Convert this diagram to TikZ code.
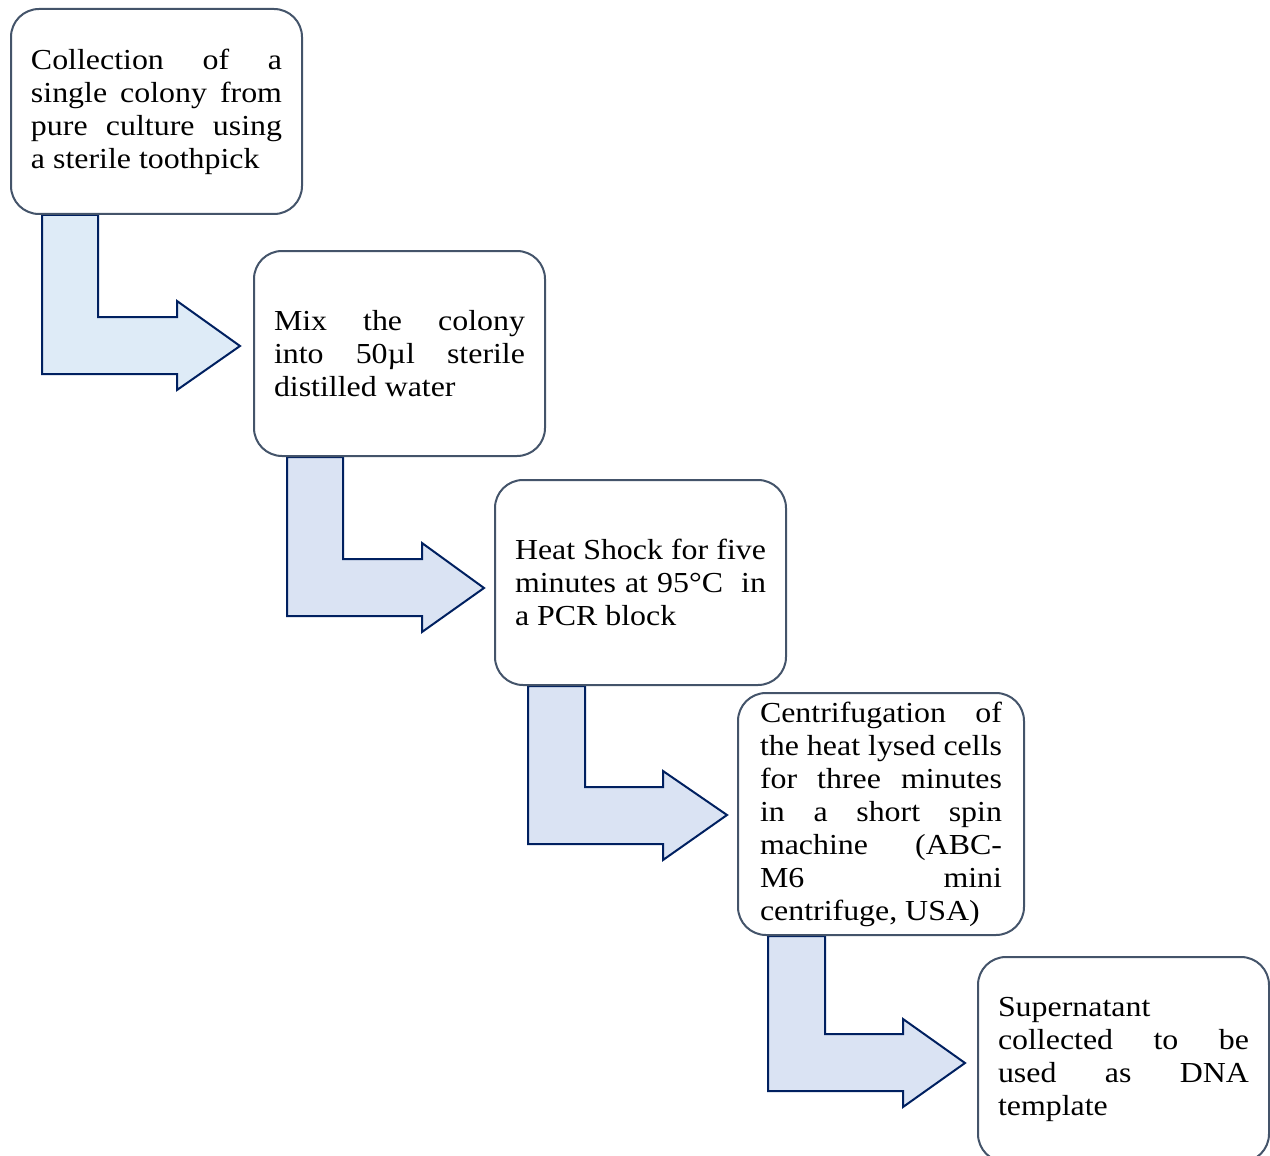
\documentclass[tikz,border=0pt]{standalone}
\usepackage{fontspec}
\setmainfont{Liberation Serif}[FakeStretch=1.1]
\usetikzlibrary{backgrounds}
\definecolor{boxline}{HTML}{44546A}
\definecolor{arrowline}{HTML}{002060}
\definecolor{arrowfillA}{HTML}{DEEBF7}
\definecolor{arrowfillB}{HTML}{DAE3F3}

\begin{document}
\begin{tikzpicture}[x=0.5pt,y=-0.5pt,
  every node/.append style={font=\fontsize{14.5pt}{16.5pt}\selectfont},
  stage/.style={draw=boxline,line width=1pt,fill=white,rounded corners=14pt,
    align=justify,text width=125.5pt,inner xsep=10pt,inner ysep=4pt,
    minimum height=102.5pt,anchor=north west},
  bentarrow/.style={draw=arrowline,line width=1pt,fill=arrowfillB,line join=miter}]
  \useasboundingbox (0,0) rectangle (1270,1156);
  \node (1_1) [stage] at (10,8) {Collection of a\linebreak single colony from\linebreak pure culture using\linebreak a sterile toothpick};
  \node (1_2) [stage] at (253,250) {Mix the colony\linebreak into 50µl sterile\linebreak distilled water};
  \node (1_3) [stage] at (494,479) {Heat Shock for five\linebreak minutes at 95°C~ in\linebreak a PCR block};
  \node (1_4) [stage,text width=121pt,inner xsep=11pt,minimum height=121pt] at (737,692) {Centrifugation of\linebreak the heat lysed cells\linebreak for three minutes\linebreak in a short spin\linebreak machine (ABC-\linebreak M6 mini\linebreak centrifuge, USA)};
  \node (1_5) [stage,text width=125.5pt] at (977,956) {Supernatant\newline collected to be\linebreak used as DNA\linebreak template};
  \begin{pgfonlayer}{background}
  \draw[bentarrow,fill=arrowfillA] ([xshift=16pt]1_1.south west) -- ++(56,0) -- ++(0,102) -- ++(79,0) -- ++(0,-16) -- ++(63,45) -- ++(-63,44) -- ++(0,-16) -- ++(-135,0) -- cycle;
  \draw[bentarrow] ([xshift=17pt]1_2.south west) -- ++(56,0) -- ++(0,102) -- ++(79,0) -- ++(0,-16) -- ++(62,45) -- ++(-62,44) -- ++(0,-16) -- ++(-135,0) -- cycle;
  \draw[bentarrow] ([xshift=17pt]1_3.south west) -- ++(57,0) -- ++(0,101) -- ++(78,0) -- ++(0,-16) -- ++(64,44) -- ++(-64,45) -- ++(0,-16) -- ++(-135,0) -- cycle;
  \draw[bentarrow] ([xshift=15.5pt]1_4.south west) -- ++(57,0) -- ++(0,98) -- ++(78,0) -- ++(0,-15) -- ++(62,44) -- ++(-62,44) -- ++(0,-16) -- ++(-135,0) -- cycle;
  \end{pgfonlayer}
\end{tikzpicture}
\end{document}
